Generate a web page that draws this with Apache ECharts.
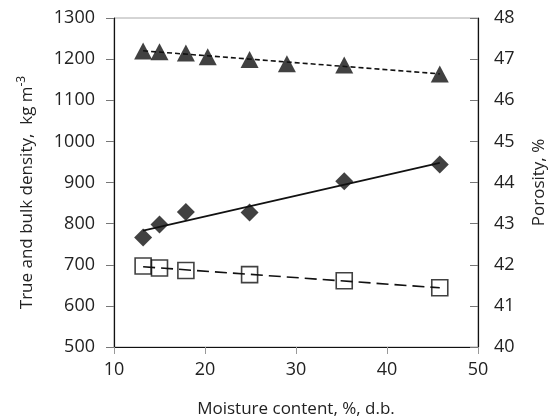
<!DOCTYPE html>
<html>
<head>
<meta charset="utf-8">
<script src="https://cdn.jsdelivr.net/npm/echarts@6/dist/echarts.min.js"></script>
<style>
html,body{margin:0;padding:0;background:#fff;}
#chart{width:550px;height:420px;}
</style>
</head>
<body>
<div id="chart"></div>
<script>
// Moisture content (% d.b.)
const moistureDB = [13.2, 15.0, 17.9, 24.9, 35.3, 45.8];
const moisturePor = [13.2, 15.0, 17.9, 20.3, 24.9, 29.0, 35.3, 45.8];
// True density (kg m-3)
const trueDensity = [766, 798, 828, 827, 903, 944];
// Bulk density (kg m-3)
const bulkDensity = [697, 692, 686, 676, 661, 644];
// Porosity (%)
const porosity = [47.20, 47.18, 47.15, 47.06, 46.99, 46.89, 46.86, 46.64];

function fitLine(xs, ys) {
  const n = xs.length;
  const mx = xs.reduce((a, b) => a + b, 0) / n;
  const my = ys.reduce((a, b) => a + b, 0) / n;
  let sxy = 0, sxx = 0;
  for (let i = 0; i < n; i++) { sxy += (xs[i] - mx) * (ys[i] - my); sxx += (xs[i] - mx) * (xs[i] - mx); }
  const b = sxy / sxx, a = my - b * mx;
  const x0 = Math.min(...xs), x1 = Math.max(...xs);
  return [[x0, a + b * x0], [x1, a + b * x1]];
}
const pairs = (xs, ys) => xs.map((x, i) => [x, ys[i]]);

const FONT = 'Open Sans';
const INK = '#111';
const plain = v => String(v);

const chart = echarts.init(document.getElementById('chart'), null, {renderer: 'canvas'});
chart.setOption({
  animation: false,
  backgroundColor: '#fff',
  textStyle: {fontFamily: FONT},
  grid: {left: 114, right: 72, top: 18, bottom: 73, show: true, borderColor: '#aaa', borderWidth: 1,
         containLabel: false, outerBoundsMode: 'none'},
  xAxis: {
    type: 'value', min: 10, max: 50, interval: 10,
    name: 'Moisture content, %, d.b.', nameLocation: 'middle', nameGap: 54,
    nameTextStyle: {fontFamily: FONT, fontSize: 17, color: '#222'},
    axisLine: {show: true, onZero: false, lineStyle: {color: INK, width: 1.2}},
    axisTick: {show: true, length: 7, lineStyle: {color: '#999'}},
    axisLabel: {fontFamily: FONT, fontSize: 18, color: '#222', margin: 14, formatter: plain},
    splitLine: {show: false}
  },
  yAxis: [
    {
      type: 'value', min: 500, max: 1300, interval: 100, position: 'left',
      name: 'True and bulk density,  kg m{sup|-3}', nameLocation: 'middle', nameGap: 76, nameRotate: 90,
      nameTextStyle: {fontFamily: FONT, fontSize: 17, color: '#222', padding: [0, 20, 0, 0],
        rich: {sup: {fontFamily: FONT, fontSize: 12, color: '#222', verticalAlign: 'top', padding: [0, 0, 10, 0]}}},
      axisLine: {show: true, lineStyle: {color: INK, width: 1.2}},
      axisTick: {show: true, length: 8, lineStyle: {color: '#777'}},
      axisLabel: {fontFamily: FONT, fontSize: 18, color: '#222', margin: 19, formatter: plain},
      splitLine: {show: false}
    },
    {
      type: 'value', min: 40, max: 48, interval: 1, position: 'right',
      name: 'Porosity, %', nameLocation: 'middle', nameGap: 53, nameRotate: 90,
      nameTextStyle: {fontFamily: FONT, fontSize: 17, color: '#222'},
      axisLine: {show: true, lineStyle: {color: INK, width: 1.2}},
      axisTick: {show: true, inside: true, length: 8, lineStyle: {color: '#777'}},
      axisLabel: {fontFamily: FONT, fontSize: 18, color: '#222', margin: 16, formatter: plain},
      splitLine: {show: false}
    }
  ],
  series: [
    {
      type: 'line', yAxisIndex: 1, data: fitLine(moisturePor, porosity),
      showSymbol: false, symbol: 'none', lineStyle: {color: INK, width: 1.6, type: [5, 3]}, z: 2
    },
    {
      type: 'line', yAxisIndex: 0, data: fitLine(moistureDB, trueDensity),
      showSymbol: false, symbol: 'none', lineStyle: {color: INK, width: 1.6, type: 'solid'}, z: 2
    },
    {
      type: 'line', yAxisIndex: 0, data: fitLine(moistureDB, bulkDensity),
      showSymbol: false, symbol: 'none', lineStyle: {color: INK, width: 1.6, type: [12, 6]}, z: 2
    },
    {
      type: 'scatter', yAxisIndex: 1, data: pairs(moisturePor, porosity),
      symbol: 'triangle', symbolSize: [18, 17], itemStyle: {color: INK}, z: 3
    },
    {
      type: 'scatter', yAxisIndex: 0, data: pairs(moistureDB, trueDensity),
      symbol: 'diamond', symbolSize: 18, itemStyle: {color: INK}, z: 3
    },
    {
      type: 'scatter', yAxisIndex: 0, data: pairs(moistureDB, bulkDensity),
      symbol: 'rect', symbolSize: 16,
      itemStyle: {color: 'rgba(255,255,255,0)', borderColor: INK, borderWidth: 1.6}, z: 3
    }
  ]
});
</script>
</body>
</html>
